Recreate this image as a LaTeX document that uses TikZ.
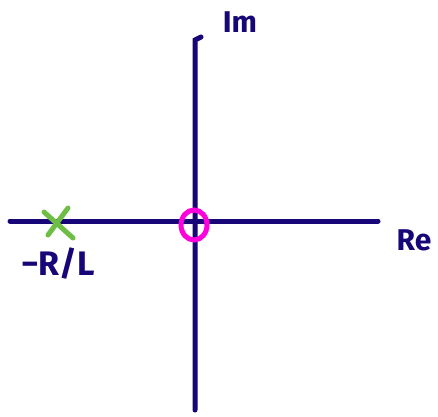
\documentclass[tikz,border=0pt]{standalone}
\usepackage{fontspec}
\setmainfont{Fira Sans}
\definecolor{axisblue}{RGB}{22,6,120}
\definecolor{polegreen}{RGB}{110,190,70}
\definecolor{zeromag}{RGB}{255,0,220}
\begin{document}
\begin{tikzpicture}[x=1pt,y=-1pt,
  axisline/.style={draw=axisblue,line width=5pt,line cap=round},
  lbl/.style={text=axisblue,font=\bfseries\fontsize{30}{32}\selectfont,inner sep=0pt}]
\useasboundingbox (0,0) rectangle (438,416);
\coordinate (xl) at (10,221);
\coordinate (xr) at (378,221);
\coordinate (yt) at (195,40);
\coordinate (yb) at (195,410);
\coordinate (o) at (194,225);
\draw[axisline] (xl) -- (xr);
\draw[axisline] (yb) -- (yt) -- (201,37);
\draw[draw=zeromag,line width=5pt] (o) ellipse (13pt and 15pt);
\coordinate (p) at (58,222);
\draw[draw=polegreen,line width=5pt,line cap=round] (44,212) -- (73,238);
\draw[draw=polegreen,line width=5pt,line cap=round] (48,235) -- (68,208);
\node[lbl] (im) at (240,22) {Im};
\node[lbl] (re) at (414,240) {Re};
\node[lbl,font=\bfseries\fontsize{34}{36}\selectfont] (rl) at (58,264) {−R/L};
\end{tikzpicture}
\end{document}
